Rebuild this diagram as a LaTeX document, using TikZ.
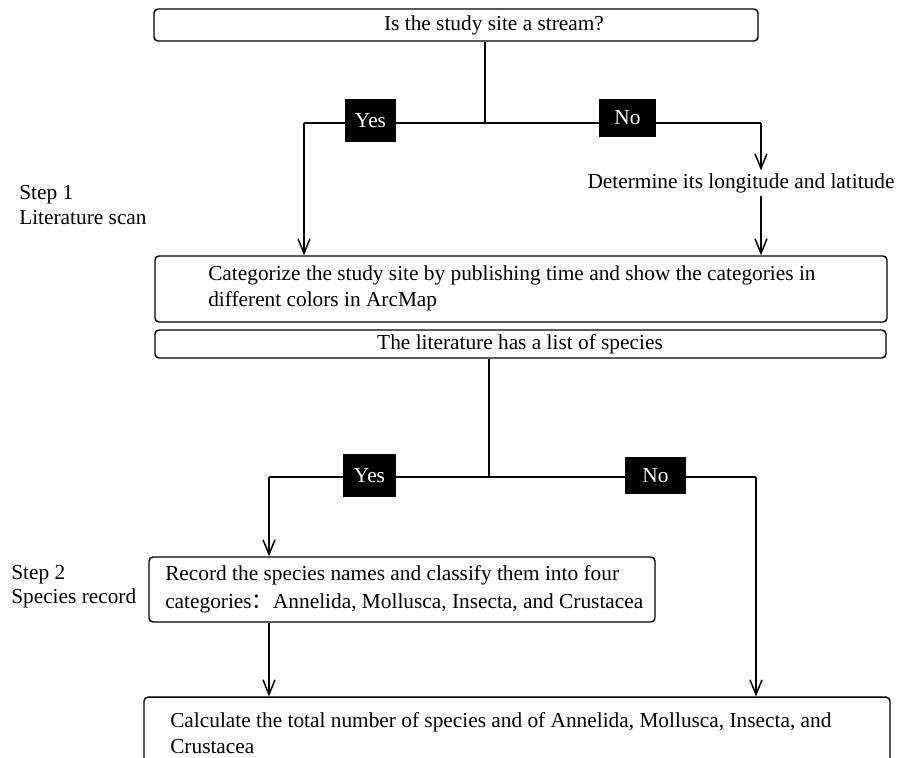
\documentclass[tikz,border=0pt]{standalone}
\usepackage{fontspec}
\setmainfont{Liberation Serif}
\newfontfamily\cjk{Noto Sans CJK SC}
\usetikzlibrary{arrows.meta}
\begin{document}
\begin{tikzpicture}[x=0.75pt,y=-0.75pt,
  box/.style={draw, line width=1.1pt, rounded corners=3pt, inner sep=0pt},
  lbl/.style={fill=black, text=white, inner sep=0pt, font=\fontsize{16}{19}\selectfont},
  txt/.style={inner sep=0pt, font=\fontsize{16}{19.5}\selectfont, align=left},
  conn/.style={line width=1.1pt},
  arr/.style={conn, -{Straight Barb[length=11pt,width=9pt,line width=1.1pt]}}]
\useasboundingbox (0,0) rectangle (914,757);
\clip (0,0) rectangle (914,757);
% boxes
\node[box, minimum width=453pt, minimum height=24pt] (b1) at (456,25) {};
\node[box, minimum width=549pt, minimum height=49.5pt] (b2) at (521,289) {};
\node[box, minimum width=548.25pt, minimum height=21pt] (b3) at (520.5,344) {};
\node[box, minimum width=379.5pt, minimum height=48.75pt] (b4) at (402,589.5) {};
\node[box, minimum width=559.5pt, minimum height=62pt] (b5) at (517,738.5) {};
% texts
\node[txt] (t1) at (494,25) {Is the study site a stream?};
\node[txt, anchor=west] (t2) at (208,288) {Categorize the study site by publishing time and show the categories in\\different colors in ArcMap};
\node[txt] (t3) at (520,344) {The literature has a list of species};
\node[txt, inner ysep=2pt] (det) at (741,183) {Determine its longitude and latitude};
\node[txt, anchor=west, font=\fontsize{16}{21}\selectfont] (t4) at (165,589) {Record the species names and classify them into four\\categories{\cjk ：}Annelida, Mollusca, Insecta, and Crustacea};
\node[txt, anchor=west] (t5) at (170,733) {Calculate the total number of species and of Annelida, Mollusca, Insecta, and\\Crustacea};
\node[txt, anchor=west, font=\fontsize{16}{19}\selectfont] (s1) at (19,205) {Step 1\\Literature scan};
\node[txt, anchor=west, font=\fontsize{16}{18}\selectfont] (s2) at (11,587) {Step 2\\Species record};
% step 1 connectors
\coordinate (j1) at (485,123);
\coordinate (l1) at (304,123);
\coordinate (r1) at (761,123);
\draw[conn] (b1.south -| j1) -- (j1);
\draw[conn] (l1) -- (r1);
\draw[arr] (l1) -- (l1 |- b2.north);
\draw[arr] (r1) -- (r1 |- det.north);
\draw[arr] (r1 |- det.south) -- (r1 |- b2.north);
\node[lbl, minimum width=38.25pt, minimum height=32.25pt] (yes1) at (370.5,120.5) {Yes};
\node[lbl, minimum width=42.75pt, minimum height=28.5pt] (no1) at (627.5,118) {No};
% step 2 connectors
\coordinate (j2) at (489,477);
\coordinate (l2) at (269,477);
\coordinate (r2) at (756,477);
\draw[conn] (b3.south -| j2) -- (j2);
\draw[conn] (l2) -- (r2);
\draw[arr] (l2) -- (l2 |- b4.north);
\draw[arr] (r2) -- (r2 |- b5.north);
\draw[arr] (b4.south -| l2) -- (l2 |- b5.north);
\node[lbl, minimum width=39.75pt, minimum height=32.25pt] (yes2) at (369.5,475.5) {Yes};
\node[lbl, minimum width=45.75pt, minimum height=27.75pt] (no2) at (655.5,475.5) {No};
\end{tikzpicture}
\end{document}
